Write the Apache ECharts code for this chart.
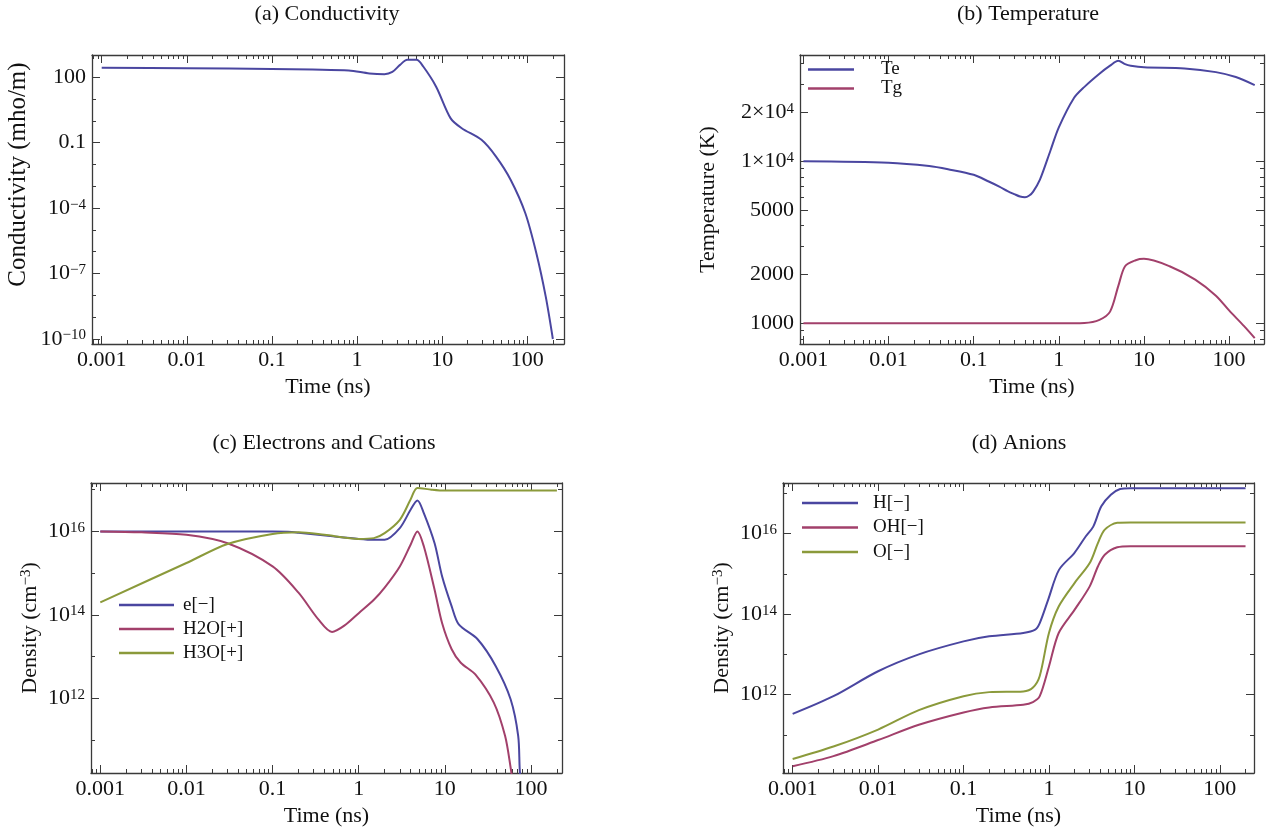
<!DOCTYPE html>
<html><head><meta charset="utf-8">
<script src="https://cdn.jsdelivr.net/npm/echarts@6/dist/echarts.min.js"></script>
<style>html,body{margin:0;padding:0;background:#fff}#c{width:1280px;height:834px}</style>
</head><body><div id="c"></div>
<script>
// ---------------- DATA ----------------
// (a) Conductivity
const condTime   = [0.001, 0.01, 0.1, 0.3, 0.8, 1.4, 2.1, 2.6, 3.2, 3.9, 5.0, 6.0, 8.5, 12.6, 17, 29, 43, 64, 95, 128, 165, 200];
const condValues = [270, 260, 240, 225, 205, 150, 138, 175, 370, 630, 630, 310, 37, 1.3, 0.46, 0.135, 0.023, 0.00195, 5.8e-5, 8.5e-7, 8.7e-9, 1e-10];
// (b) Temperature
const teTime   = [0.001, 0.01, 0.03, 0.05, 0.1, 0.15, 0.2, 0.25, 0.3, 0.35, 0.4, 0.45, 0.5, 0.6, 0.8, 1, 1.5, 2, 3, 4, 5, 6, 7, 10, 30, 70, 120, 200];
const teValues = [10000, 9800, 9350, 8930, 8250, 7500, 6980, 6550, 6270, 6060, 6000, 6150, 6500, 7700, 11700, 16200, 24500, 28800, 34700, 38900, 41700, 39800, 38900, 38000, 37400, 35500, 33100, 29500];
const tgTime   = [0.001, 0.1, 1, 2, 3, 4, 5, 6, 8, 10, 20, 40, 70, 100, 150, 200];
const tgValues = [1000, 1000, 1000, 1005, 1050, 1180, 1700, 2250, 2450, 2500, 2250, 1860, 1480, 1200, 960, 810];
// (c) Electrons and Cations
const eTime   = [0.001, 0.01, 0.05, 0.1, 0.15, 0.2, 0.5, 1, 1.5, 2, 3, 4, 4.8, 5.7, 7.6, 9.3, 12, 14.5, 24, 39, 58, 71, 74, 78];
const eValues = [1e16, 1e16, 1e16, 1e16, 9.8e15, 9.3e15, 7.6e15, 6.6e15, 6.3e15, 6.3e15, 1.2e16, 3.3e16, 5.5e16, 2.75e16, 5.2e15, 8.3e14, 1.6e14, 5.9e13, 2.6e13, 5.9e12, 9.5e11, 1.26e11, 2e10, 5e9];
const h2oTime   = [0.001, 0.003, 0.01, 0.03, 0.1, 0.2, 0.34, 0.49, 0.68, 1, 1.5, 2, 3, 4, 4.8, 5.7, 7.6, 9.3, 12, 15.3, 22.7, 37, 50, 58, 62];
const h2oValues = [1e16, 9.5e15, 8.3e15, 5.2e15, 1.45e15, 3.4e14, 7.8e13, 3.9e13, 5.5e13, 1.1e14, 2.3e14, 4.5e14, 1.45e15, 4.8e15, 1e16, 4.4e15, 4e14, 6.3e13, 1.5e13, 7.1e12, 3.7e12, 7.9e11, 1.26e11, 2.2e10, 8e9];
const h3oTime   = [0.001, 0.01, 0.03, 0.1, 0.2, 0.4, 1, 1.5, 2, 3, 4, 4.8, 7, 10, 200];
const h3oValues = [2.0e14, 1.75e15, 5.0e15, 8.7e15, 9.5e15, 8.3e15, 6.6e15, 6.9e15, 9.1e15, 1.9e16, 5.8e16, 1.1e17, 1.0e17, 9.5e16, 9.5e16];
// (d) Anions
const hTime   = [0.001, 0.003, 0.01, 0.03, 0.1, 0.2, 0.5, 0.69, 0.78, 0.98, 1.31, 1.98, 2.69, 3.3, 4.1, 5.3, 6.8, 9, 200];
const hValues = [3.3e11, 9.1e11, 3.8e12, 1.0e13, 2.1e13, 2.8e13, 3.4e13, 4.1e13, 6.0e13, 2.3e14, 1.26e15, 3.3e15, 8.5e15, 1.5e16, 4.8e16, 9.3e16, 1.29e17, 1.35e17, 1.35e17];
const ohTime   = [0.001, 0.003, 0.01, 0.03, 0.1, 0.2, 0.5, 0.65, 0.78, 1, 1.3, 2, 3, 3.75, 4.5, 6.3, 9, 200];
const ohValues = [1.66e10, 2.95e10, 7.4e10, 1.78e11, 3.6e11, 4.8e11, 5.6e11, 6.5e11, 9.1e11, 5.0e12, 3.4e13, 1.29e14, 4.9e14, 1.55e15, 3.0e15, 4.6e15, 4.9e15, 4.9e15];
const oTime   = [0.001, 0.003, 0.01, 0.03, 0.1, 0.2, 0.5, 0.65, 0.78, 1, 1.3, 2, 3, 3.75, 4.5, 6.3, 9, 200];
const oValues = [2.5e10, 5.1e10, 1.35e11, 4.1e11, 9.1e11, 1.15e12, 1.2e12, 1.5e12, 2.9e12, 3.4e13, 1.55e14, 6.0e14, 1.86e15, 5.9e15, 1.26e16, 1.86e16, 1.9e16, 1.9e16];

// tick labels
const timeTicks = [0.001, 0.01, 0.1, 1, 10, 100];
const timeTickLabels = ['0.001', '0.01', '0.1', '1', '10', '100'];
const condTicks = [1e-10, 1e-7, 1e-4, 0.1, 100];
const tempTicks = [1000, 2000, 5000, 10000, 20000];
const densTicks = [1e12, 1e14, 1e16];

// ---------------- CHART ----------------
const FONT = "'Liberation Serif','Times New Roman',serif";
const AX = '#3a3a3a';
const BLUE = '#4a46a0', RED = '#a2406b', OLIVE = '#8b9a3b';
const MINUS = '\u2212';
const L = Math.log10;
const pts = (t, v) => t.map((x, i) => [L(x), L(v[i])]);
const TS = 22;
const sup = {s: {fontSize: 15, fontFamily: FONT, color: '#111', verticalAlign: 'top', lineHeight: 14}};

function decadeMinors(lo, hi) {
  const out = [];
  for (let d = Math.floor(lo) - 1; d <= Math.ceil(hi); d++) {
    for (let k = 2; k <= 9; k++) { const v = d + L(k); if (v > lo && v < hi) out.push(v); }
  }
  return out;
}
const timeFmt = v => { const i = timeTicks.findIndex(t => Math.abs(L(t) - v) < 1e-6); return i >= 0 ? timeTickLabels[i] : ''; };
const powFmt = v => { const n = Math.round(v); return '10{s|' + (n < 0 ? MINUS + (-n) : n) + '}'; };

function xAxes(gi, range, name) {
  const majors = timeTicks.map(L);
  const minors = decadeMinors(range[0], range[1]);
  const base = {type: 'value', gridIndex: gi, min: range[0], max: range[1], splitLine: {show: false}, axisPointer: {show: false}};
  const line = {show: true, onZero: false, lineStyle: {color: AX, width: 1.3}};
  const tick = (vals, len) => ({show: true, inside: true, length: len, customValues: vals, lineStyle: {color: AX, width: 1}});
  return [
    Object.assign({}, base, {position: 'bottom', axisLine: line, axisTick: tick(majors, 8),
      axisLabel: {show: true, customValues: majors, formatter: timeFmt, margin: 5, color: '#111', fontSize: TS, fontFamily: FONT},
      name: name, nameLocation: 'middle', nameGap: 32, nameMoveOverlap: false,
      nameTextStyle: {fontSize: 22, fontFamily: FONT, color: '#111'}}),
    Object.assign({}, base, {position: 'bottom', axisLine: {show: false, onZero: false}, axisTick: tick(minors, 4), axisLabel: {show: false}}),
    Object.assign({}, base, {position: 'top', axisLine: line, axisTick: tick(majors, 8), axisLabel: {show: false}}),
    Object.assign({}, base, {position: 'top', axisLine: {show: false, onZero: false}, axisTick: tick(minors, 4), axisLabel: {show: false}})
  ];
}
function yAxes(gi, range, majors, minors, fmt, name, nameGap, nameSize, namePad) {
  const base = {type: 'value', gridIndex: gi, min: range[0], max: range[1], splitLine: {show: false}, axisPointer: {show: false}};
  const line = {show: true, onZero: false, lineStyle: {color: AX, width: 1.3}};
  const tick = (vals, len) => ({show: true, inside: true, length: len, customValues: vals, lineStyle: {color: AX, width: 1}});
  return [
    Object.assign({}, base, {position: 'left', axisLine: line, axisTick: tick(majors, 8),
      axisLabel: {show: true, customValues: majors, formatter: fmt, margin: 6, color: '#111', fontSize: TS, fontFamily: FONT, rich: sup},
      name: name, nameLocation: 'middle', nameGap: nameGap, nameRotate: 90, nameMoveOverlap: false,
      nameTextStyle: {fontSize: nameSize, fontFamily: FONT, color: '#111', padding: namePad || 0,
        rich: {s: {fontSize: 15, fontFamily: FONT, color: '#111', verticalAlign: 'top', lineHeight: 14}}}}),
    Object.assign({}, base, {position: 'left', axisLine: {show: false, onZero: false}, axisTick: tick(minors, 4), axisLabel: {show: false}}),
    Object.assign({}, base, {position: 'right', axisLine: line, axisTick: tick(majors, 8), axisLabel: {show: false}}),
    Object.assign({}, base, {position: 'right', axisLine: {show: false, onZero: false}, axisTick: tick(minors, 4), axisLabel: {show: false}})
  ];
}

const grids = [
  {left: 92, top: 55, width: 472, height: 289},
  {left: 800, top: 55, width: 464, height: 289},
  {left: 91, top: 483, width: 471, height: 290},
  {left: 783, top: 483, width: 471, height: 290}
].map(g => Object.assign({containLabel: false, outerBoundsMode: 'none'}, g));

const xr = [[-3.114, 2.432], [-3.04, 2.41], [-3.108, 2.36], [-3.113, 2.40]];
const yr = [[-10.23, 3.02], [2.872, 4.656], [10.21, 17.16], [10.05, 17.26]];

const condFmt = v => { const n = Math.round(v); if (n === 2) return '100'; if (n === -1) return '0.1'; return powFmt(v); };
const tempFmt = v => { const val = Math.round(Math.pow(10, v)); if (val >= 10000) return (val / 10000) + '\u00d710{s|4}'; return String(val); };

let xAxis = [], yAxis = [];
for (let g = 0; g < 4; g++) xAxis = xAxis.concat(xAxes(g, xr[g], 'Time (ns)'));
yAxis = yAxis.concat(yAxes(0, yr[0], condTicks.map(L), [-9, -8, -6, -5, -3, -2, 0, 1, 3].filter(v => v > yr[0][0] && v < yr[0][1]), condFmt, 'Conductivity (mho/m)', 61, 25, [0, 0, 0, 50]));
yAxis = yAxis.concat(yAxes(1, yr[1], tempTicks.map(L), [800, 900, 3000, 4000, 6000, 7000, 8000, 9000, 30000, 40000].map(L), tempFmt, 'Temperature (K)', 81, 22));
yAxis = yAxis.concat(yAxes(2, yr[2], densTicks.map(L), [11, 13, 15, 17], powFmt, 'Density (cm{s|' + MINUS + '3})', 50, 22));
yAxis = yAxis.concat(yAxes(3, yr[3], densTicks.map(L), [11, 13, 15, 17], powFmt, 'Density (cm{s|' + MINUS + '3})', 50, 22));

function ser(name, g, t, v, color) {
  return {name: name, type: 'line', xAxisIndex: g * 4, yAxisIndex: g * 4, data: pts(t, v), smooth: 0.3,
    symbol: 'none', clip: true, lineStyle: {color: color, width: 2}, itemStyle: {color: color}, emphasis: {disabled: true}};
}
const series = [
  ser('Conductivity', 0, condTime, condValues, BLUE),
  ser('Te', 1, teTime, teValues, BLUE),
  ser('Tg', 1, tgTime, tgValues, RED),
  ser('e[' + MINUS + ']', 2, eTime, eValues, BLUE),
  ser('H2O[+]', 2, h2oTime, h2oValues, RED),
  ser('H3O[+]', 2, h3oTime, h3oValues, OLIVE),
  ser('H[' + MINUS + ']', 3, hTime, hValues, BLUE),
  ser('OH[' + MINUS + ']', 3, ohTime, ohValues, RED),
  ser('O[' + MINUS + ']', 3, oTime, oValues, OLIVE)
];

const legTxt = (pad, lh) => ({fontFamily: FONT, fontSize: 19, color: '#111', lineHeight: lh, padding: [0, 0, 0, pad]});
const legend = [
  {data: ['Te', 'Tg'], orient: 'vertical', left: 808, top: 60, icon: 'rect', itemWidth: 46, itemHeight: 2.5, itemGap: 0, padding: 0, selectedMode: false, textStyle: legTxt(22, 19)},
  {data: ['e[' + MINUS + ']', 'H2O[+]', 'H3O[+]'], orient: 'vertical', left: 119, top: 595, icon: 'rect', itemWidth: 55, itemHeight: 2.5, itemGap: 4, padding: 0, selectedMode: false, textStyle: legTxt(4, 20)},
  {data: ['H[' + MINUS + ']', 'OH[' + MINUS + ']', 'O[' + MINUS + ']'], orient: 'vertical', left: 802, top: 493, icon: 'rect', itemWidth: 56, itemHeight: 2.5, itemGap: 4.5, padding: 0, selectedMode: false, textStyle: legTxt(10, 20)}
];

const tStyle = {fontFamily: FONT, fontSize: 22, fontWeight: 'normal', color: '#111'};
const title = [
  {text: '(a) Conductivity', left: 327, top: 3, textAlign: 'center', padding: 0, textStyle: tStyle},
  {text: '(b) Temperature', left: 1028, top: 3, textAlign: 'center', padding: 0, textStyle: tStyle},
  {text: '(c) Electrons and Cations', left: 324, top: 432, textAlign: 'center', padding: 0, textStyle: tStyle},
  {text: '(d) Anions', left: 1019, top: 432, textAlign: 'center', padding: 0, textStyle: tStyle}
];

const chart = echarts.init(document.getElementById('c'), null, {renderer: 'canvas'});
chart.setOption({animation: false, backgroundColor: '#fff', title, legend, grid: grids, xAxis, yAxis, series});
</script>
</body></html>
